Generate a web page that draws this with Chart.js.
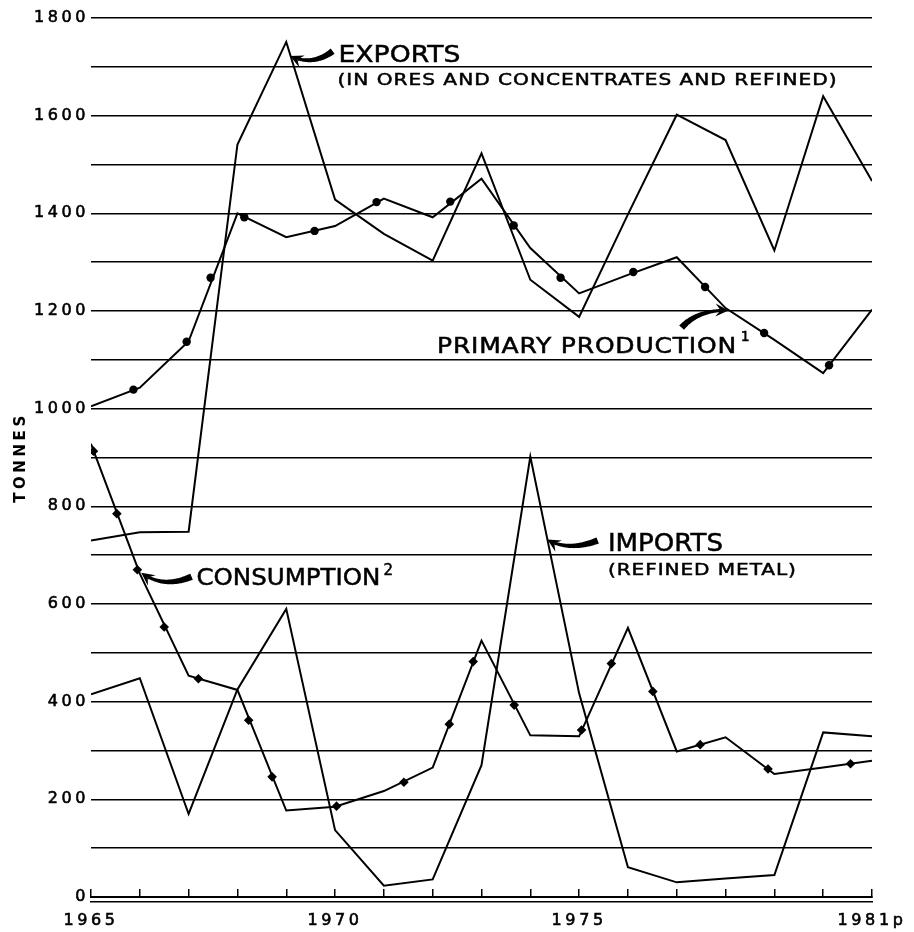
<!DOCTYPE html>
<html>
<head>
<meta charset="utf-8">
<script src="https://cdn.jsdelivr.net/npm/chart.js@4.4.1/dist/chart.umd.min.js"></script>
<style>
html,body{margin:0;padding:0;background:#fff;}
#wrap{width:914px;height:932px;position:relative;}
</style>
</head>
<body>
<div id="wrap"><canvas id="c" width="914" height="932"></canvas></div>
<script>
// ---- data ----
const years = [1965,1966,1967,1968,1969,1970,1971,1972,1973,1974,1975,1976,1977,1978,1979,1980,1981];
const exportsT     = [730, 747, 748, 1541, 1751, 1428, 1358, 1303, 1523, 1264, 1188, 1398, 1602, 1550, 1324, 1640, 1466];
const productionT  = [1005, 1043, 1138, 1400, 1351, 1374, 1430, 1392, 1471, 1329, 1236, 1274, 1310, 1206, 1141, 1073, 1203];
const importsT     = [415, 448, 170, 425, 590, 137, 23, 36, 270, 902, 417, 61, 30, 38, 45, 337, 329];
const consumptionT = [928, 662, 453, 424, 177, 185, 217, 265, 525, 331, 329, 551, 298, 327, 252, 265, 279];

// dot markers drawn along the production line
const prodMarkX = [1965.87, 1966.96, 1967.45, 1968.14, 1969.58, 1970.85, 1972.36, 1973.66, 1974.62, 1976.11, 1977.58, 1978.79, 1980.12];
const prodMarkY = [1039, 1137, 1268, 1392, 1364, 1423, 1424, 1375, 1268, 1280, 1249, 1155, 1089];
// diamond markers drawn along the consumption line
const consMarkX = [1965.05, 1965.53, 1965.95, 1966.5, 1967.2, 1968.23, 1968.71, 1970.03, 1971.41, 1972.34, 1972.83, 1973.67, 1975.05, 1975.66, 1976.51, 1977.48, 1978.87, 1980.56];
const consMarkY = [913, 785, 670, 553, 447, 362, 246, 186, 235, 354, 482, 393, 342, 478, 421, 312, 262, 273];

const xTickLabels = {1965: '1965', 1970: '1970', 1975: '1975', 1981: '1981p'};
const yLabelStep = 200;

// ---- annotations (in data units) ----
const texts = [
  {text: 'EXPORTS', x: 1970.07, y: 1709, size: 23, width: 122},
  {text: '(IN ORES AND CONCENTRATES AND REFINED)', x: 1970.05, y: 1662, size: 16.5, width: 499},
  {text: 'PRIMARY PRODUCTION', x: 1972.09, y: 1114.6, size: 20.5, width: 299},
  {text: '1', x: 1978.31, y: 1138, size: 14, width: 0},
  {text: 'CONSUMPTION', x: 1967.16, y: 639.6, size: 23, width: 184},
  {text: '2', x: 1970.99, y: 660, size: 15, width: 0},
  {text: 'IMPORTS', x: 1975.59, y: 707.9, size: 24, width: 115},
  {text: '(REFINED METAL)', x: 1975.59, y: 659, size: 16.5, width: 188}
];
const arrows = [
  {t: [1969.95, 1732], c: [1969.54, 1701], p: [1969.08, 1722]},
  {t: [1977.10, 1166], c: [1977.43, 1203], p: [1978.06, 1201]},
  {t: [1967.06, 656],  c: [1966.48, 631],  p: [1966.03, 664]},
  {t: [1975.38, 730],  c: [1974.78, 707],  p: [1974.35, 732]}
];

const FONT = '"DejaVu Sans", "Liberation Sans", sans-serif';
const AXIS_SPACING = '3.6px';

function pts(xs, ys) { return xs.map((x, i) => ({x: x, y: ys[i]})); }

function drawArrow(ctx, T, C, P, wTail, headLen, headHalf) {
  const q = t => ({
    x: (1-t)*(1-t)*T.x + 2*(1-t)*t*C.x + t*t*P.x,
    y: (1-t)*(1-t)*T.y + 2*(1-t)*t*C.y + t*t*P.y
  });
  let dx = P.x - C.x, dy = P.y - C.y;
  const L = Math.hypot(dx, dy) || 1;
  const ux = dx / L, uy = dy / L;
  const bx = P.x - ux * headLen, by = P.y - uy * headLen;
  const path = [];
  for (let i = 0; i <= 60; i++) {
    const p = q(i / 60);
    if (Math.hypot(p.x - P.x, p.y - P.y) < headLen * 0.9) break;
    path.push(p);
  }
  path.push({x: bx + ux * 3, y: by + uy * 3});
  const left = [], right = [];
  for (let i = 0; i < path.length; i++) {
    const a = path[Math.max(0, i - 1)], b = path[Math.min(path.length - 1, i + 1)];
    let tx = b.x - a.x, ty = b.y - a.y;
    const tl = Math.hypot(tx, ty) || 1; tx /= tl; ty /= tl;
    const nx = -ty, ny = tx;
    const f = i / (path.length - 1);
    const w = (wTail * (1 - f) + wTail * 0.45 * f) / 2;
    left.push({x: path[i].x + nx * w, y: path[i].y + ny * w});
    right.push({x: path[i].x - nx * w, y: path[i].y - ny * w});
  }
  ctx.beginPath();
  ctx.moveTo(left[0].x, left[0].y);
  for (let i = 1; i < left.length; i++) ctx.lineTo(left[i].x, left[i].y);
  for (let i = right.length - 1; i >= 0; i--) ctx.lineTo(right[i].x, right[i].y);
  ctx.closePath();
  ctx.fill();
  const nx = -uy, ny = ux;
  ctx.beginPath();
  ctx.moveTo(P.x, P.y);
  ctx.lineTo(bx + nx * headHalf - ux * 2, by + ny * headHalf - uy * 2);
  ctx.lineTo(bx + ux * 3, by + uy * 3);
  ctx.lineTo(bx - nx * headHalf - ux * 2, by - ny * headHalf - uy * 2);
  ctx.closePath();
  ctx.fill();
}

const annotPlugin = {
  id: 'annot',
  beforeDraw(chart) { chart.ctx.letterSpacing = AXIS_SPACING; },
  afterDraw(chart) {
    const ctx = chart.ctx, xs = chart.scales.x, ys = chart.scales.y;
    ctx.save();
    ctx.fillStyle = '#000';
    ctx.strokeStyle = '#000';
    ctx.letterSpacing = '0px';
    for (const a of arrows) {
      const T = {x: xs.getPixelForValue(a.t[0]), y: ys.getPixelForValue(a.t[1])};
      const C = {x: xs.getPixelForValue(a.c[0]), y: ys.getPixelForValue(a.c[1])};
      const P = {x: xs.getPixelForValue(a.p[0]), y: ys.getPixelForValue(a.p[1])};
      drawArrow(ctx, T, C, P, 6.5, 11, 6.5);
    }
    ctx.textAlign = 'left';
    ctx.textBaseline = 'alphabetic';
    ctx.lineWidth = 0.5;
    for (const t of texts) {
      ctx.font = t.size + 'px ' + FONT;
      ctx.letterSpacing = '0px';
      const w0 = ctx.measureText(t.text).width;
      const n = Array.from(t.text).length;
      let sx = 1, sp = 0;
      if (t.width && n > 1) {
        sx = Math.min(t.width / w0, 1.22);
        sp = (t.width - w0 * sx) / (n - 1) / sx;
      }
      const px = xs.getPixelForValue(t.x), py = ys.getPixelForValue(t.y);
      ctx.save();
      ctx.translate(px, py);
      ctx.scale(sx, 1);
      ctx.letterSpacing = sp.toFixed(2) + 'px';
      ctx.fillText(t.text, 0, 0);
      ctx.strokeText(t.text, 0, 0);
      ctx.restore();
    }
    ctx.restore();
    ctx.letterSpacing = '0px';
  }
};

const lineDs = (label, data) => ({
  label: label, data: data, borderColor: '#000', borderWidth: 2,
  pointRadius: 0, tension: 0, fill: false
});

const xLabel = v => (xTickLabels[v] !== undefined ? xTickLabels[v] : '');
const axisFont = {family: FONT, size: 16};

new Chart(document.getElementById('c'), {
  type: 'line',
  data: {
    datasets: [
      {label: 'Production markers', data: pts(prodMarkX, prodMarkY), showLine: false,
       pointRadius: 4.2, pointStyle: 'circle', pointBackgroundColor: '#000', pointBorderColor: '#000', borderWidth: 0},
      {label: 'Consumption markers', data: pts(consMarkX, consMarkY), showLine: false,
       pointRadius: 4.8, pointStyle: 'rectRot', pointBackgroundColor: '#000', pointBorderColor: '#000', borderWidth: 0},
      lineDs('Exports', pts(years, exportsT)),
      lineDs('Primary production', pts(years, productionT)),
      lineDs('Imports', pts(years, importsT)),
      lineDs('Consumption', pts(years, consumptionT))
    ]
  },
  options: {
    responsive: false,
    animation: false,
    devicePixelRatio: 1,
    layout: {padding: {left: 0, right: 42, top: 18, bottom: 0}},
    plugins: {legend: {display: false}, tooltip: {enabled: false}},
    scales: {
      x: {
        type: 'linear', position: 'bottom', weight: 1, min: 1965, max: 1981,
        ticks: {display: false, stepSize: 1, autoSkip: false},
        grid: {display: true, drawOnChartArea: false, drawTicks: true, tickLength: -8, color: '#000', lineWidth: 1.5},
        border: {display: true, color: '#000', width: 2},
        afterFit: s => { s.height = 5; }
      },
      x2: {
        type: 'linear', position: 'bottom', weight: 2, min: 1965, max: 1981,
        ticks: {stepSize: 1, autoSkip: false, maxRotation: 0, minRotation: 0, padding: 1,
                color: '#000', font: axisFont, callback: xLabel,
                textStrokeColor: '#000', textStrokeWidth: 0.6},
        grid: {display: false},
        border: {display: true, color: '#000', width: 1.5},
        afterFit: s => { s.height = 30; }
      },
      y: {
        type: 'linear', position: 'left', min: 0, max: 1800,
        ticks: {stepSize: 100, autoSkip: false, padding: 2, color: '#000',
                font: axisFont,
                textStrokeColor: '#000', textStrokeWidth: 0.6,
                callback: v => (v % yLabelStep === 0 ? String(v) : '')},
        grid: {color: '#000', lineWidth: 1.5, drawTicks: false},
        border: {display: false},
        title: {display: true, text: 'TONNES', color: '#000',
                font: {family: FONT, size: 15, weight: 'bold'},
                padding: {top: 12, bottom: 0}},
        afterFit: s => { s.width = 91; }
      }
    }
  },
  plugins: [annotPlugin]
});
</script>
</body>
</html>
